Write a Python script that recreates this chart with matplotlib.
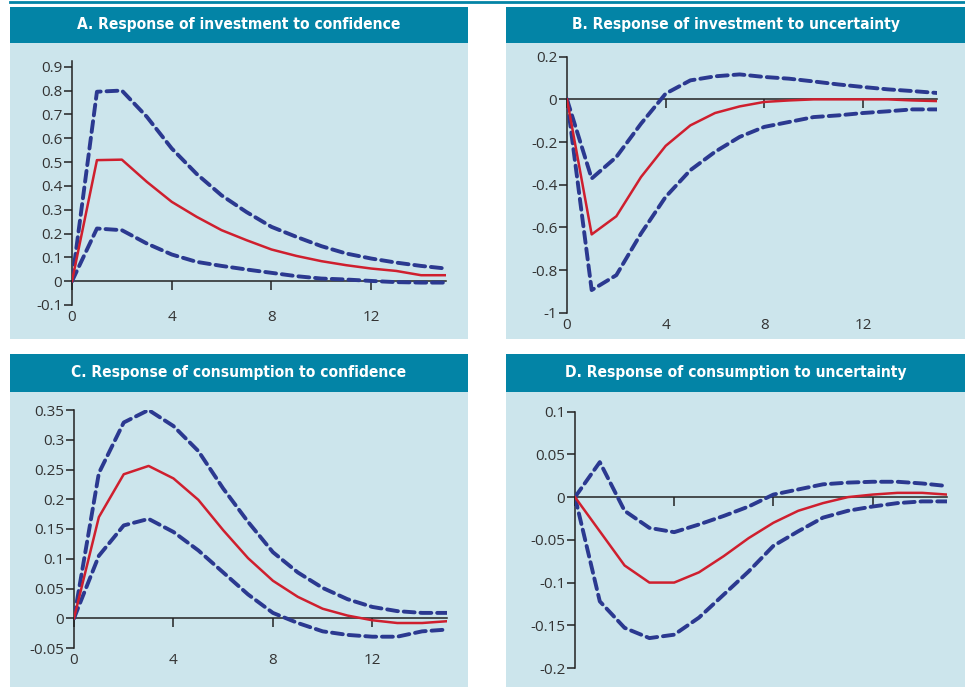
import matplotlib
matplotlib.use("Agg")
import matplotlib.pyplot as plt
from matplotlib.patches import Rectangle
from matplotlib.lines import Line2D

W, H = 965, 689
DPI = 100

quarters = list(range(16))

# Panel A: investment to confidence
inv_conf_mid = [0, 0.508, 0.51, 0.417, 0.333, 0.27, 0.214, 0.172, 0.133, 0.106, 0.084, 0.067, 0.053, 0.043, 0.025, 0.025]
inv_conf_hi = [0, 0.795, 0.80, 0.69, 0.557, 0.45, 0.36, 0.29, 0.228, 0.186, 0.147, 0.116, 0.095, 0.078, 0.064, 0.053]
inv_conf_lo = [0, 0.221, 0.214, 0.158, 0.112, 0.081, 0.064, 0.049, 0.035, 0.021, 0.011, 0.007, 0.001, -0.004, -0.006, -0.006]

# Panel B: investment to uncertainty
inv_unc_mid = [0, -0.633, -0.548, -0.364, -0.218, -0.122, -0.064, -0.033, -0.012, -0.005, 0.0, 0.0, 0.0, 0.0, -0.005, -0.008]
inv_unc_hi = [0, -0.371, -0.27, -0.114, 0.027, 0.089, 0.108, 0.117, 0.105, 0.097, 0.084, 0.07, 0.058, 0.047, 0.039, 0.03]
inv_unc_lo = [0, -0.894, -0.824, -0.629, -0.457, -0.332, -0.246, -0.176, -0.129, -0.106, -0.083, -0.075, -0.064, -0.056, -0.047, -0.047]

# Panel C: consumption to confidence
con_conf_mid = [0, 0.170, 0.242, 0.256, 0.235, 0.199, 0.148, 0.101, 0.063, 0.036, 0.016, 0.0045, -0.0034, -0.008, -0.008, -0.005]
con_conf_hi = [0, 0.244, 0.329, 0.35, 0.323, 0.281, 0.218, 0.162, 0.111, 0.077, 0.051, 0.032, 0.019, 0.012, 0.009, 0.009]
con_conf_lo = [0, 0.105, 0.156, 0.167, 0.145, 0.114, 0.077, 0.040, 0.009, -0.008, -0.022, -0.028, -0.031, -0.031, -0.022, -0.019]

# Panel D: consumption to uncertainty
con_unc_mid = [0, -0.040, -0.080, -0.100, -0.100, -0.088, -0.069, -0.048, -0.030, -0.016, -0.007, 0.0, 0.003, 0.005, 0.005, 0.003]
con_unc_hi = [0, 0.041, -0.016, -0.036, -0.041, -0.032, -0.022, -0.011, 0.003, 0.009, 0.015, 0.017, 0.018, 0.018, 0.016, 0.013]
con_unc_lo = [0, -0.122, -0.153, -0.165, -0.161, -0.141, -0.114, -0.087, -0.057, -0.040, -0.024, -0.016, -0.011, -0.007, -0.005, -0.005]

titles = ["A. Response of investment to confidence",
          "B. Response of investment to uncertainty",
          "C. Response of consumption to confidence",
          "D. Response of consumption to uncertainty"]

x_ticks = [0, 4, 8, 12]
x_labels = ["0", "4", "8", "12"]

yt_A = [-0.1, 0, 0.1, 0.2, 0.3, 0.4, 0.5, 0.6, 0.7, 0.8, 0.9]
yl_A = ["-0.1", "0", "0.1", "0.2", "0.3", "0.4", "0.5", "0.6", "0.7", "0.8", "0.9"]
yt_B = [-1, -0.8, -0.6, -0.4, -0.2, 0, 0.2]
yl_B = ["-1", "-0.8", "-0.6", "-0.4", "-0.2", "0", "0.2"]
yt_C = [-0.05, 0, 0.05, 0.1, 0.15, 0.2, 0.25, 0.3, 0.35]
yl_C = ["-0.05", "0", "0.05", "0.1", "0.15", "0.2", "0.25", "0.3", "0.35"]
yt_D = [-0.2, -0.15, -0.1, -0.05, 0, 0.05, 0.1]
yl_D = ["-0.2", "-0.15", "-0.1", "-0.05", "0", "0.05", "0.1"]

TEAL = "#0384a6"
BODY = "#cce5ec"
RED = "#cf1f2e"
NAVY = "#2b3990"
AX = "#222222"
TXT = "#333333"

plt.rcParams['font.family'] = ['Open Sans', 'DejaVu Sans']

fig = plt.figure(figsize=(W / DPI, H / DPI), dpi=DPI)
fig.patch.set_facecolor("white")


def fx(px):
    return px / W


def fy(py):
    return 1 - py / H


def rect(x0, y0, x1, y1, color):
    fig.patches.append(Rectangle((fx(x0), fy(y1)), fx(x1) - fx(x0), fy(y0) - fy(y1),
                                 transform=fig.transFigure, facecolor=color,
                                 edgecolor="none", zorder=-5))


# top rule
fig.lines.append(Line2D([fx(10), fx(965)], [fy(1.5), fy(1.5)], transform=fig.transFigure,
                        color=TEAL, lw=2.0, zorder=-5))

panels = [
    # (x0, x1, title_top, title_bot, body_bot)
    (10, 468, 7, 43, 339),
    (506, 965, 7, 43, 339),
    (10, 468, 354, 392, 687),
    (506, 965, 354, 392, 687),
]
for (x0, x1, t0, t1, b1), title in zip(panels, titles):
    rect(x0, t0, x1, t1, TEAL)
    rect(x0, t1, x1, b1, BODY)
    fig.text(fx((x0 + x1) / 2), fy((t0 + t1) / 2), title, color="white",
             ha="center", va="center", fontsize=11.2, fontweight="bold",
             fontstretch="condensed", family=['DejaVu Sans'])

# axes geometry: (left, right, top, bottom) in pixels
axes_geom = [
    (72, 446, 61, 305),
    (567, 937, 56.7, 312.7),
    (74, 447, 410, 648),
    (575, 947, 411.7, 668),
]
ylims = [(-0.1, 0.924), (-1, 0.2), (-0.05, 0.35), (-0.2, 0.1)]
yticks = [(yt_A, yl_A), (yt_B, yl_B), (yt_C, yl_C), (yt_D, yl_D)]
series = [
    (inv_conf_mid, inv_conf_hi, inv_conf_lo),
    (inv_unc_mid, inv_unc_hi, inv_unc_lo),
    (con_conf_mid, con_conf_hi, con_conf_lo),
    (con_unc_mid, con_unc_hi, con_unc_lo),
]
show_xlabels = [True, True, True, False]

for i, ((l, r, t, b), ylim, (yt, yl), (mid, hi, lo)) in enumerate(
        zip(axes_geom, ylims, yticks, series)):
    ax = fig.add_axes([fx(l), fy(b), fx(r) - fx(l), fy(t) - fy(b)])
    ax.set_zorder(2)
    ax.set_facecolor("none")
    ax.set_xlim(0, 15)
    ax.set_ylim(*ylim)
    for s in ["top", "right"]:
        ax.spines[s].set_visible(False)
    ax.spines["left"].set_color(AX)
    ax.spines["left"].set_linewidth(1.1)
    ax.spines["bottom"].set_position(("data", 0))
    ax.spines["bottom"].set_color(AX)
    ax.spines["bottom"].set_linewidth(1.1)
    ax.set_yticks(yt)
    ax.set_yticklabels(yl)
    ax.set_xticks(x_ticks)
    ax.tick_params(axis="y", direction="out", length=5.5, width=1.1, color=AX,
                   labelsize=11, labelcolor=TXT, pad=1.5)
    ax.tick_params(axis="x", direction="out", length=6.5, width=1.1, color=AX,
                   labelbottom=False)
    if show_xlabels[i]:
        for xv, lab in zip(x_ticks, x_labels):
            ax.annotate(lab, xy=(xv, 0), xycoords=("data", "axes fraction"),
                        xytext=(0, -9), textcoords="offset points",
                        ha="center", va="center", fontsize=11, color=TXT)
    ax.plot(quarters, hi, color=NAVY, lw=2.8, dashes=(2.8, 1.5), zorder=3,
            dash_capstyle="round")
    ax.plot(quarters, lo, color=NAVY, lw=2.8, dashes=(2.8, 1.5), zorder=3,
            dash_capstyle="round")
    ax.plot(quarters, mid, color=RED, lw=1.8, zorder=4)

fig.savefig("out.png", dpi=DPI, facecolor="white")
